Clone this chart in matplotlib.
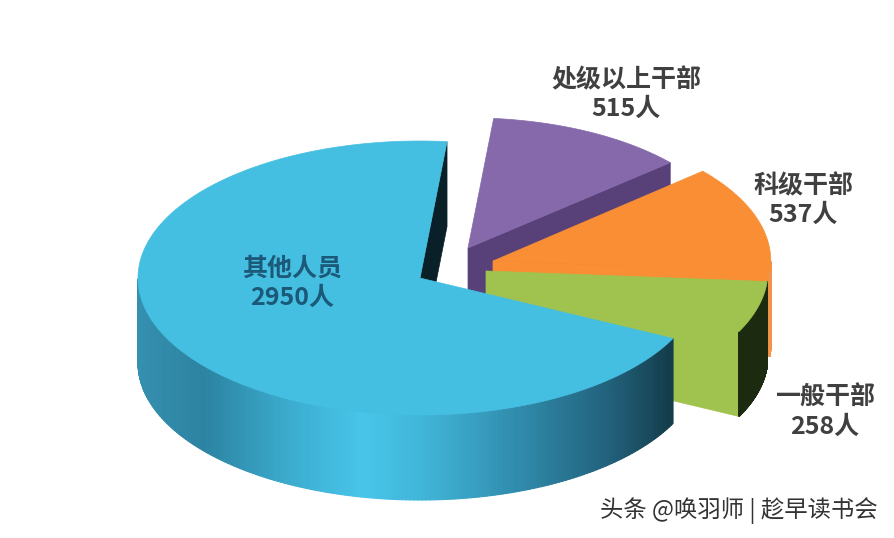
# -*- coding: utf-8 -*-
import numpy as np
import matplotlib
matplotlib.use("Agg")
import matplotlib.pyplot as plt
from matplotlib.collections import PolyCollection
from matplotlib.colors import LinearSegmentedColormap

plt.rcParams['font.family'] = ['Noto Sans CJK SC', 'DejaVu Sans']

# counterclockwise from the top, same order as the picture
names = ["其他人员", "一般干部", "科级干部", "处级以上干部"]
counts = [2950, 258, 537, 515]
top_colors = ["#44bfe2", "#9fc34e", "#f98e35", "#8569aa"]
face_colors = ["#0a2029", "#9fc34e", "#f98e35", "#584079"]
side_stops = [
    [(0, "#358fae"), (0.12, "#2c83a2"), (0.3, "#3db0d3"), (0.42, "#48c5ea"),
     (0.55, "#3fb2d4"), (0.72, "#2f89aa"), (0.88, "#22627c"), (1, "#143d4c")],
    [(0, "#1c2a10"), (1, "#1c2a10")],
    [(0, "#ee9350"), (1, "#ee9350")],
    [(0, "#584079"), (1, "#584079")],
]
apex_x = [420, 486, 493, 468]
apex_y = [278, 271, 261, 248]
scale_x = [1, 1, 0.985, 0.95]
scale_y = [1, 1, 1, 0.95]
label_x = [292, 825, 803, 626]
label_y = [269, 398, 186, 80]
label_colors = ["#1c5877", "#404040", "#404040", "#404040"]

RX, RY, DEPTH = 282, 137, 85
START = 84.5

fig = plt.figure(figsize=(8.94, 5.38), dpi=100)
ax = fig.add_axes([0, 0, 1, 1])
ax.set_xlim(0, 894)
ax.set_ylim(538, 0)
ax.axis("off")

sweeps = np.array(counts) / sum(counts) * 360
starts = START + np.r_[0, np.cumsum(sweeps)[:-1]]

# back slice first, the big one has to lie over all the others
for i in [3, 2, 1, 0]:
    cx, cy = apex_x[i], apex_y[i]
    z = 10 + 3 - i
    angles = np.linspace(starts[i], starts[i] + sweeps[i], 300)
    t = np.deg2rad(angles)
    x = cx + RX * scale_x[i] * np.cos(t)
    y = cy - RY * scale_y[i] * np.sin(t)

    # cut face at the start of the slice
    ax.fill([cx, x[0], x[0], cx], [cy, y[0], y[0] + DEPTH, cy + DEPTH],
            fc=face_colors[i], ec=face_colors[i], lw=0.5, zorder=z)

    # outer wall, only the part turned to the viewer
    front = np.sin(t) < 0
    idx = np.where(front[:-1] & front[1:])[0]
    cmap = LinearSegmentedColormap.from_list("side", side_stops[i])
    quads = [[(x[k], y[k]), (x[k + 1], y[k + 1]),
              (x[k + 1], y[k + 1] + DEPTH), (x[k], y[k] + DEPTH)] for k in idx]
    if quads:
        pos = (x[idx] - x[idx].min()) / max(np.ptp(x[idx]), 1)
        pc = PolyCollection(quads, facecolors=cmap(pos), edgecolors=cmap(pos),
                            linewidths=0.8, zorder=z)
        ax.add_collection(pc)

    ax.fill(np.r_[cx, x], np.r_[cy, y], fc=top_colors[i], ec=top_colors[i],
            lw=0.5, zorder=z + 0.5)

    ax.text(label_x[i], label_y[i], names[i], ha="center", va="center",
            fontsize=18, fontweight="bold", color=label_colors[i], zorder=30)
    ax.text(label_x[i], label_y[i] + 29, "%d人" % counts[i], ha="center",
            va="center", fontsize=18, fontweight="bold",
            color=label_colors[i], zorder=30)

ax.text(878, 511, "头条 @唤羽师 | 趁早读书会", ha="right", va="center",
        fontsize=16.8, color="#333333", zorder=30)

fig.savefig("out.png", dpi=100)
